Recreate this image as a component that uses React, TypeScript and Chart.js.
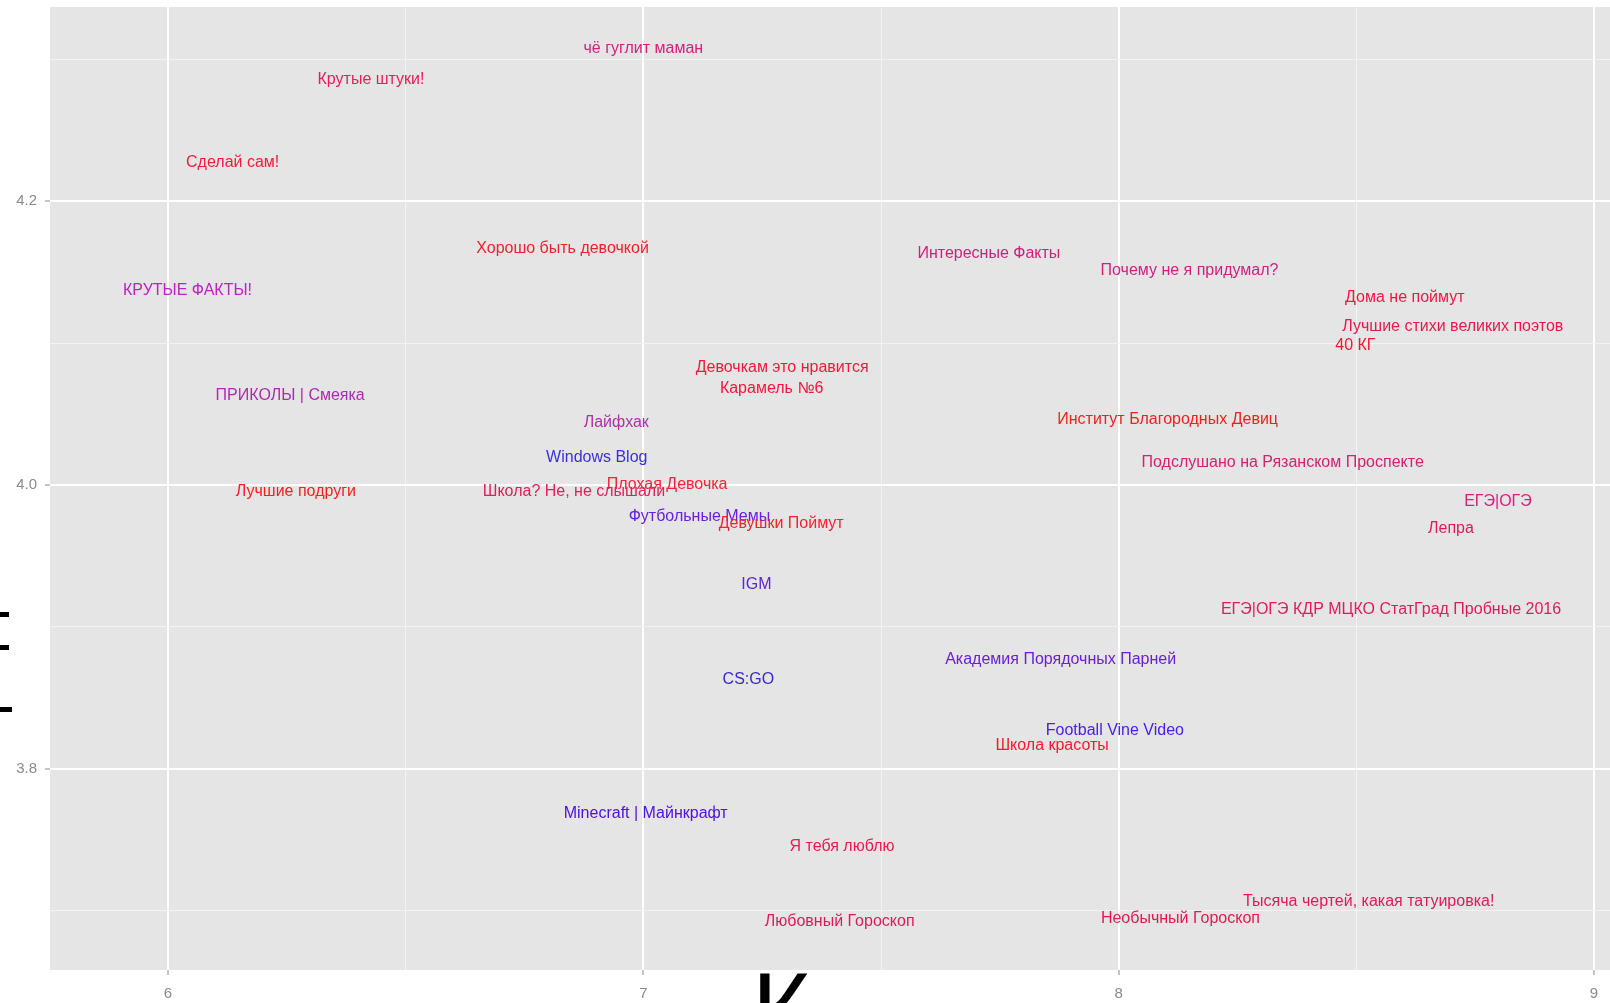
import React, { useEffect, useRef } from "react";
import { Chart, registerables } from "chart.js";

Chart.register(...registerables);

const channelNames: string[] = [
  "чё гуглит маман",
  "Крутые штуки!",
  "Сделай сам!",
  "КРУТЫЕ ФАКТЫ!",
  "Хорошо быть девочкой",
  "Интересные Факты",
  "Почему не я придумал?",
  "Дома не поймут",
  "Лучшие стихи великих поэтов",
  "40 КГ",
  "Девочкам это нравится",
  "Карамель №6",
  "ПРИКОЛЫ | Смеяка",
  "Лайфхак",
  "Институт Благородных Девиц",
  "Windows Blog",
  "Подслушано на Рязанском Проспекте",
  "Плохая Девочка",
  "Школа? Не, не слышали",
  "Лучшие подруги",
  "ЕГЭ|ОГЭ",
  "Футбольные Мемы",
  "Девушки Поймут",
  "Лепра",
  "IGM",
  "ЕГЭ|ОГЭ КДР МЦКО СтатГрад Пробные 2016",
  "Академия Порядочных Парней",
  "CS:GO",
  "Football Vine Video",
  "Школа красоты",
  "Minecraft | Майнкрафт",
  "Я тебя люблю",
  "Тысяча чертей, какая татуировка!",
  "Любовный Гороскоп",
  "Необычный Гороскоп",
];

const xValues: number[] = [
  7.0, 6.427, 6.136, 6.041, 6.83, 7.727, 8.149, 8.602, 8.703, 8.498,
  7.292, 7.27, 6.257, 6.943, 8.103, 6.902, 8.345, 7.05, 6.854, 6.269,
  8.798, 7.118, 7.29, 8.699, 7.238, 8.573, 7.878, 7.221, 7.992, 7.86,
  7.005, 7.418, 8.526, 7.413, 8.13,
];

const yValues: number[] = [
  4.308, 4.286, 4.227, 4.137, 4.167, 4.163, 4.151, 4.132, 4.112, 4.098,
  4.083, 4.068, 4.063, 4.044, 4.046, 4.019, 4.016, 4.0, 3.995, 3.995,
  3.988, 3.978, 3.973, 3.969, 3.93, 3.912, 3.877, 3.863, 3.827, 3.816,
  3.768, 3.745, 3.706, 3.692, 3.694,
];

const labelColors: string[] = [
  "#d8207a", "#e81e5a", "#f01c3c", "#c020c8", "#f02030", "#d0207a", "#d02080", "#f01840", "#e81850", "#f01a30",
  "#f01a38", "#f01840", "#b02ab0", "#b030a8", "#f02020", "#3a2ee0", "#d82070", "#f8203a", "#e0205a", "#f82020",
  "#d8207a", "#6a20e0", "#f82030", "#e01a60", "#5a28d0", "#e01a60", "#6a20d8", "#3a28c8", "#4a20e8", "#f81830",
  "#5010e8", "#e81a50", "#e01a5a", "#e01a5a", "#e01a50",
];

const xTickLabels: string[] = ["6", "7", "8", "9"];
const yTickLabels: string[] = ["3.8", "4.0", "4.2"];

const X_MIN = 5.7517;
const X_MAX = 9.0337;
const Y_MIN = 3.658;
const Y_MAX = 4.337;

const isMajorX = (v: number) => xTickLabels.includes(String(Math.round(v))) && Math.abs(v - Math.round(v)) < 1e-6;
const yLabelFor = (v: number) => {
  const s = v.toFixed(1);
  return Math.abs(v - parseFloat(s)) < 1e-6 && yTickLabels.includes(s) ? s : "";
};
const isMajorY = (v: number) => {
  const r = Math.round(v * 10);
  return Math.abs(v * 10 - r) < 1e-6 && r % 2 === 0;
};

const panelPlugin = {
  id: "panelBg",
  beforeDraw(chart: any) {
    const { ctx, chartArea } = chart;
    ctx.save();
    ctx.fillStyle = "#e5e5e5";
    ctx.fillRect(chartArea.left, chartArea.top, chartArea.right - chartArea.left, chartArea.bottom - chartArea.top);
    ctx.restore();
  },
};

const labelPlugin = {
  id: "textLabels",
  afterDatasetsDraw(chart: any) {
    const meta = chart.getDatasetMeta(0);
    const ctx = chart.ctx;
    ctx.save();
    ctx.font = '16px "Liberation Sans", Arial, sans-serif';
    ctx.textAlign = "center";
    ctx.textBaseline = "middle";
    meta.data.forEach((pt: any, i: number) => {
      ctx.fillStyle = labelColors[i];
      ctx.fillText(channelNames[i], pt.x, pt.y);
    });
    ctx.restore();
  },
};

export default function App() {
  const canvasRef = useRef<HTMLCanvasElement | null>(null);

  useEffect(() => {
    if (!canvasRef.current) return;
    const chart = new Chart(canvasRef.current, {
      type: "scatter",
      data: {
        datasets: [
          {
            data: xValues.map((x, i) => ({ x, y: yValues[i] })),
            pointRadius: 0,
            pointHoverRadius: 0,
          },
        ],
      },
      options: {
        animation: false,
        responsive: false,
        devicePixelRatio: 1,
        events: [],
        layout: { padding: { top: 7, right: 0, left: 0, bottom: 0 } },
        plugins: { legend: { display: false }, tooltip: { enabled: false } },
        scales: {
          x: {
            type: "linear",
            min: X_MIN,
            max: X_MAX,
            afterFit: (scale: any) => {
              scale.height = 33;
              scale.paddingLeft = 0;
              scale.paddingRight = 0;
            },
            border: { display: false },
            grid: {
              drawTicks: true,
              tickLength: 5,
              lineWidth: (c: any) => (c.tick && isMajorX(c.tick.value) ? 2 : 1),
              color: (c: any) => (c.tick && isMajorX(c.tick.value) ? "#ffffff" : "#f3f3f3"),
              tickColor: (c: any) => (c.tick && isMajorX(c.tick.value) ? "#8a8a8a" : "rgba(0,0,0,0)"),
              tickWidth: 1,
            },
            ticks: {
              stepSize: 0.5,
              includeBounds: false,
              autoSkip: false,
              maxRotation: 0,
              padding: 10,
              color: "#8a8a8a",
              font: { family: '"Liberation Sans", Arial, sans-serif', size: 15 },
              callback: (v: any) => (isMajorX(Number(v)) ? String(Math.round(Number(v))) : ""),
            },
          },
          y: {
            type: "linear",
            min: Y_MIN,
            max: Y_MAX,
            afterFit: (scale: any) => {
              scale.width = 50;
              scale.paddingTop = 0;
              scale.paddingBottom = 0;
            },
            border: { display: false },
            grid: {
              drawTicks: true,
              tickLength: 5,
              lineWidth: (c: any) => (c.tick && isMajorY(c.tick.value) ? 2 : 1),
              color: (c: any) => (c.tick && isMajorY(c.tick.value) ? "#ffffff" : "#f3f3f3"),
              tickColor: (c: any) => (c.tick && isMajorY(c.tick.value) ? "#8a8a8a" : "rgba(0,0,0,0)"),
              tickWidth: 1,
            },
            ticks: {
              stepSize: 0.1,
              includeBounds: false,
              autoSkip: false,
              padding: 8,
              color: "#8a8a8a",
              font: { family: '"Liberation Sans", Arial, sans-serif', size: 15 },
              callback: (v: any) => yLabelFor(Number(v)),
            },
          },
        },
      },
      plugins: [panelPlugin, labelPlugin],
    } as any);
    return () => chart.destroy();
  }, []);

  return (
    <div
      style={{
        position: "fixed",
        left: 0,
        top: 0,
        width: 1610,
        height: 1003,
        overflow: "hidden",
        background: "#ffffff",
      }}
    >
      <canvas ref={canvasRef} width={1610} height={1003} style={{ display: "block" }} />
      <div style={{ position: "absolute", left: 0, top: 612, width: 9, height: 5, background: "#000" }} />
      <div style={{ position: "absolute", left: 0, top: 645, width: 9, height: 5, background: "#000" }} />
      <div style={{ position: "absolute", left: 0, top: 707, width: 12, height: 5, background: "#000" }} />
      <div
        style={{
          position: "absolute",
          left: 752,
          top: 958,
          fontFamily: '"Liberation Sans", Arial, sans-serif',
          fontSize: 100,
          lineHeight: "100px",
          color: "#000",
        }}
      >
        К
      </div>
    </div>
  );
}
